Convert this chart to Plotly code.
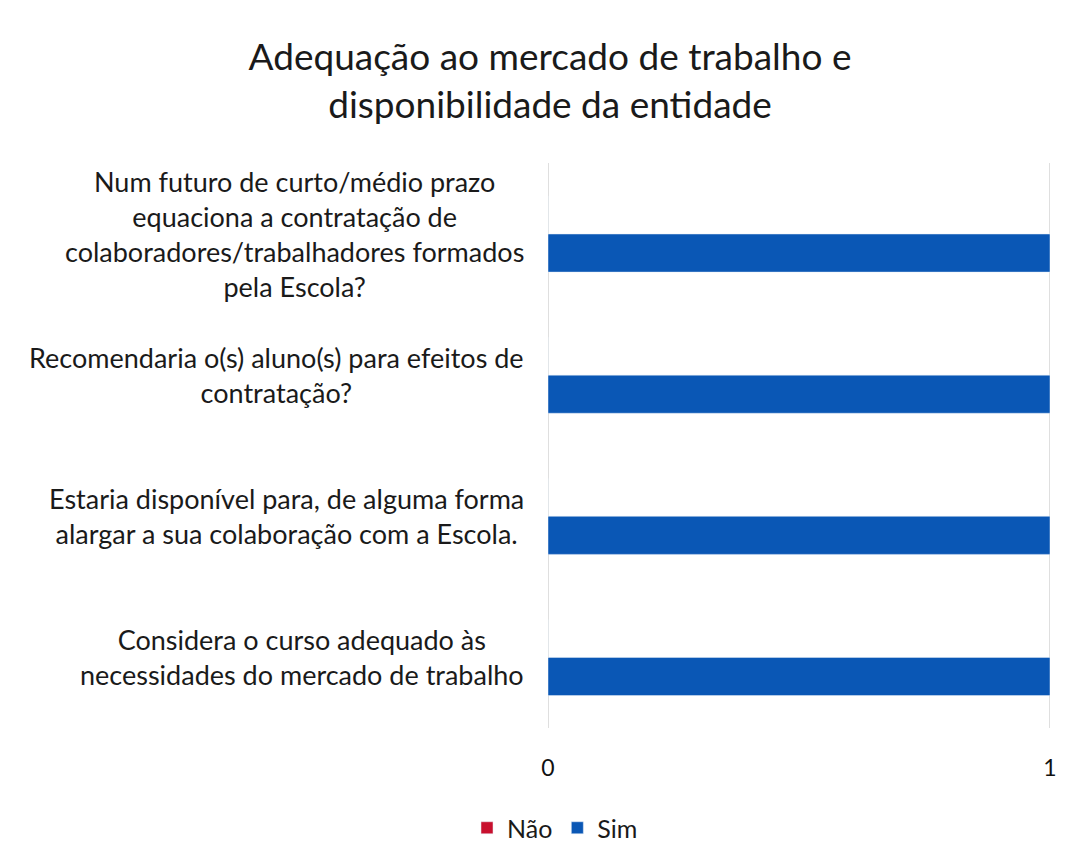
import plotly.graph_objects as go

title_text = "Adequação ao mercado de trabalho e<br>disponibilidade da entidade"
categories = [
    "Considera o curso adequado às<br>necessidades do mercado de trabalho",
    "Estaria disponível para, de alguma forma<br>alargar a sua colaboração com a Escola.",
    "Recomendaria o(s) aluno(s) para efeitos de<br>contratação?",
    "Num futuro de curto/médio prazo<br>equaciona a contratação de<br>colaboradores/trabalhadores formados<br>pela Escola?",
]
sim_values = [1, 1, 1, 1]
nao_values = [0, 0, 0, 0]
x_ticks = [0, 1]

FONT = "Lato"
W, H = 1076, 863
fig = go.Figure()
fig.add_trace(go.Bar(y=categories, x=sim_values, orientation="h", name="Sim",
                     marker_color="#0A57B5", legendrank=2))
fig.add_trace(go.Bar(y=categories, x=nao_values, orientation="h", name="Não",
                     marker_color="#C8102E", legendrank=1))

for c in categories:
    fig.add_annotation(x=0, xref="paper", y=c, yref="y", text=c, showarrow=False,
                       xanchor="right", yanchor="middle", xshift=-22, align="center",
                       font=dict(family=FONT, size=27, color="#1a1a1a"))

for t in x_ticks:
    fig.add_vline(x=t, line_color="#d4d4d4", line_width=1.5, layer="below")

fig.update_layout(
    width=W, height=H,
    margin=dict(l=540, r=34, t=155, b=143),
    paper_bgcolor="white", plot_bgcolor="white",
    barmode="group", bargap=0.46, bargroupgap=0,
    title=dict(text=title_text, xref="container", x=542 / W, xanchor="center",
               yref="container", y=1 - 62 / H, yanchor="middle",
               font=dict(family=FONT, size=37, color="#1a1a1a")),
    legend=dict(orientation="h", xref="container", x=547 / W, xanchor="center",
                yref="container", y=1 - 820 / H, yanchor="middle",
                font=dict(family=FONT, size=25, color="#1a1a1a"),
                itemwidth=30, traceorder="normal"),
    xaxis=dict(range=[0, 1], tickvals=x_ticks, ticktext=[str(t) for t in x_ticks],
               showgrid=False, zeroline=False,
               showline=False, ticks="", ticklabelstandoff=24,
               tickfont=dict(family=FONT, size=23, color="#111111")),
    yaxis=dict(showticklabels=False, showgrid=False, zeroline=False, showline=False),
    showlegend=True,
)
fig.write_html("out.html")
